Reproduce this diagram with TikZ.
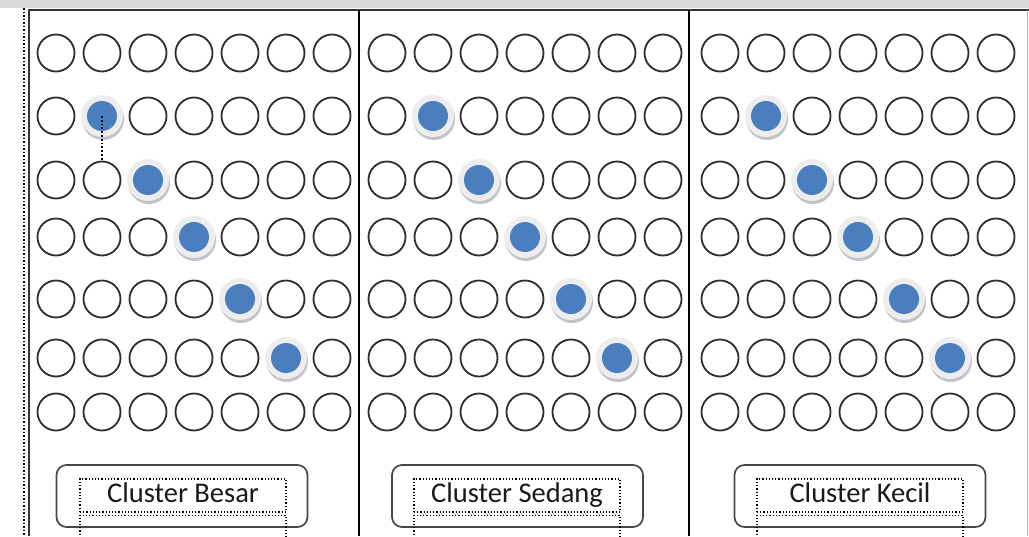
\documentclass[tikz,border=0pt]{standalone}
\usepackage{fontspec}
\setmainfont{Carlito}
\usepackage{tikz}
\usetikzlibrary{positioning, shadows}
\definecolor{selBlue}{HTML}{4A7EBF}
\definecolor{frameGray}{HTML}{333333}

\begin{document}
\begin{tikzpicture}[x=1pt, y=-1pt,
      cell/.style={circle, draw=black!82, line width=1.8pt, minimum size=37pt, inner sep=0pt},
      sel/.style={circle, fill=black!7, minimum size=42pt, inner sep=0pt,
        drop shadow={shadow xshift=1pt, shadow yshift=-3pt, fill=selBlue!35!black!35, opacity=0.8},
        path picture={\fill[selBlue] (path picture bounding box.center) circle (15pt);}},
      tag/.style={draw=black!72, line width=1.7pt, rounded corners=10pt, minimum width=251pt, minimum height=62pt},
      lbl/.style={draw=black, dotted, line width=1.2pt, minimum width=206pt, minimum height=33pt, inner sep=0pt,
        text height=20pt, text depth=6pt, font=\fontsize{28.5}{32}\selectfont, text=black!90}]
    \useasboundingbox (0,0) rectangle (1029,536);
    \fill[black!15] (0,0) rectangle (1029,8);
    \draw[dotted, line width=1.5pt] (24,8) -- (24,536);
    \draw[frameGray, line width=1.8pt] (29,536) -- (29,10) -- (1029,10);
    \draw[black, line width=1.2pt] (359,10) -- (359,536) (689,10) -- (689,536);
    \draw[black!30, line width=1pt] (1027,10) -- (1027,536);
    % three panels of 7x7 cells, one diagonal marked
    \foreach \p/\x in {1/56, 2/387, 3/720} {
      \foreach \r/\y in {1/53, 2/116, 3/180, 4/237, 5/299, 6/358, 7/412} {
        \foreach \c in {1,...,7} {
          \pgfmathtruncatemacro{\hit}{(\r==\c)&&(\r>1)&&(\r<7)}
          \ifnum\hit=1
            \node[sel] (n\p-\r-\c) at (\x+46*\c-46, \y) {};
          \else
            \node[cell] (n\p-\r-\c) at (\x+46*\c-46, \y) {};
          \fi
        }
      }
    }
    \draw[dotted, line width=1.8pt] (n1-2-2.center) -- (n1-3-2.north);
    % labels
    \node[tag] (box1) at (182,496) {};
    \node[tag] (box2) at (517.5,496) {};
    \node[tag] (box3) at (860,496) {};
    \node[lbl] (lbl1) at (183,495.5) {Cluster Besar};
    \node[lbl] (lbl2) at (517,495.5) {Cluster Sedang};
    \node[lbl] (lbl3) at (860,495.5) {Cluster Kecil};
    \node[lbl, minimum height=40pt, text height=0pt, text depth=0pt, below=2pt of lbl1] (low1) {};
    \node[lbl, minimum height=40pt, text height=0pt, text depth=0pt, below=2pt of lbl2] (low2) {};
    \node[lbl, minimum height=40pt, text height=0pt, text depth=0pt, below=2pt of lbl3] (low3) {};
  \end{tikzpicture}
\end{document}
